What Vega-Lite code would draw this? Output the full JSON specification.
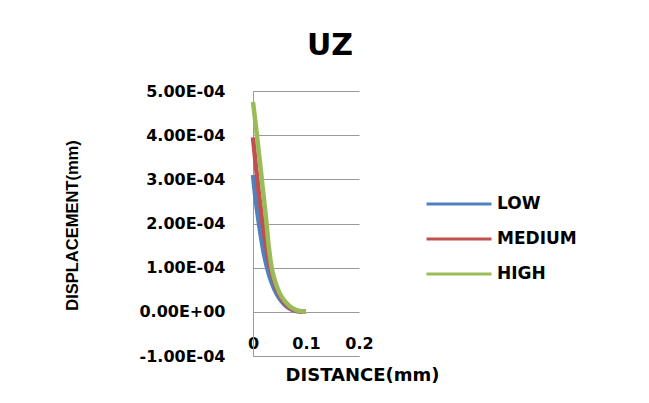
{
  "$schema": "https://vega.github.io/schema/vega-lite/v6.json",
  "width": 106,
  "height": 265,
  "autosize": "none",
  "padding": {"left": 253, "top": 91, "right": 290, "bottom": 47},
  "background": "white",
  "title": {"text": "UZ", "fontSize": 30, "font": "DejaVu Sans", "fontWeight": "bold", "anchor": "middle", "frame": "group", "dx": 24, "offset": 22, "color": "#000000"},
  "config": {
    "view": {"stroke": null},
    "font": "DejaVu Sans"
  },
  "data": {"values": [
    {"level": "LOW", "distance": 0, "uz": 0.00031},
    {"level": "LOW", "distance": 0.005, "uz": 0.000255},
    {"level": "LOW", "distance": 0.01, "uz": 0.00021},
    {"level": "LOW", "distance": 0.015, "uz": 0.00017},
    {"level": "LOW", "distance": 0.02, "uz": 0.000135},
    {"level": "LOW", "distance": 0.03, "uz": 0.000085},
    {"level": "LOW", "distance": 0.04, "uz": 0.000052},
    {"level": "LOW", "distance": 0.05, "uz": 0.00003},
    {"level": "LOW", "distance": 0.06, "uz": 0.000016},
    {"level": "LOW", "distance": 0.07, "uz": 0.000007},
    {"level": "LOW", "distance": 0.08, "uz": 0.0000025},
    {"level": "LOW", "distance": 0.09, "uz": 0.0000005},
    {"level": "LOW", "distance": 0.1, "uz": 0},
    {"level": "MEDIUM", "distance": 0, "uz": 0.000395},
    {"level": "MEDIUM", "distance": 0.005, "uz": 0.000335},
    {"level": "MEDIUM", "distance": 0.01, "uz": 0.00028},
    {"level": "MEDIUM", "distance": 0.015, "uz": 0.00023},
    {"level": "MEDIUM", "distance": 0.02, "uz": 0.000185},
    {"level": "MEDIUM", "distance": 0.03, "uz": 0.000115},
    {"level": "MEDIUM", "distance": 0.04, "uz": 0.000068},
    {"level": "MEDIUM", "distance": 0.05, "uz": 0.000038},
    {"level": "MEDIUM", "distance": 0.06, "uz": 0.00002},
    {"level": "MEDIUM", "distance": 0.07, "uz": 0.000009},
    {"level": "MEDIUM", "distance": 0.08, "uz": 0.0000035},
    {"level": "MEDIUM", "distance": 0.09, "uz": 0.0000008},
    {"level": "MEDIUM", "distance": 0.1, "uz": 0},
    {"level": "HIGH", "distance": 0, "uz": 0.000475},
    {"level": "HIGH", "distance": 0.005, "uz": 0.000425},
    {"level": "HIGH", "distance": 0.01, "uz": 0.000372},
    {"level": "HIGH", "distance": 0.015, "uz": 0.000318},
    {"level": "HIGH", "distance": 0.02, "uz": 0.000263},
    {"level": "HIGH", "distance": 0.025, "uz": 0.000207},
    {"level": "HIGH", "distance": 0.03, "uz": 0.000145},
    {"level": "HIGH", "distance": 0.035, "uz": 0.000102},
    {"level": "HIGH", "distance": 0.04, "uz": 0.000076},
    {"level": "HIGH", "distance": 0.05, "uz": 0.000043},
    {"level": "HIGH", "distance": 0.06, "uz": 0.000024},
    {"level": "HIGH", "distance": 0.07, "uz": 0.000012},
    {"level": "HIGH", "distance": 0.08, "uz": 0.000005},
    {"level": "HIGH", "distance": 0.09, "uz": 0.0000015},
    {"level": "HIGH", "distance": 0.1, "uz": 0}
  ]},
  "mark": {"type": "line", "strokeWidth": 4.5, "interpolate": "monotone"},
  "encoding": {
    "x": {
      "field": "distance", "type": "quantitative",
      "scale": {"domain": [0, 0.2], "nice": false},
      "axis": {
        "values": [0, 0.1, 0.2], "labelExpr": "datum.value == 0 ? '0' : format(datum.value, '.1f')",
        "grid": false, "ticks": false, "domain": true, "domainColor": "#9a9a9a", "domainWidth": 1,
        "labelFont": "DejaVu Sans", "labelFontWeight": "bold", "labelFontSize": 16, "labelColor": "#000000",
        "labelBaseline": "middle", "labelPadding": -13, "labelFlush": false,
        "title": "DISTANCE(mm)", "titleFont": "DejaVu Sans", "titleFontWeight": "bold", "titleFontSize": 18, "titleColor": "#000000",
        "titleX": 109, "titleY": 19, "titleAlign": "center", "titleBaseline": "middle"
      }
    },
    "y": {
      "field": "uz", "type": "quantitative",
      "scale": {"domain": [-0.0001, 0.0005], "nice": false, "zero": false},
      "axis": {
        "values": [-0.0001, 0, 0.0001, 0.0002, 0.0003, 0.0004, 0.0005],
        "labelExpr": "datum.value == 0 ? '0.00E+00' : (datum.value < 0 ? '-' : '') + format(abs(datum.value) * 10000, '.2f') + 'E-04'",
        "grid": true, "gridColor": "#9a9a9a", "gridWidth": 1,
        "ticks": false, "domain": true, "domainColor": "#9a9a9a", "domainWidth": 1,
        "labelFont": "DejaVu Sans", "labelFontWeight": "bold", "labelFontSize": 16, "labelColor": "#000000",
        "labelPadding": 28, "labelFlush": false,
        "title": "DISPLACEMENT(mm)", "titleFont": "Liberation Sans", "titleFontWeight": "bold", "titleFontSize": 16.5, "titleColor": "#000000",
        "titleX": -181, "titleY": 134, "titleAngle": 270, "titleAlign": "center", "titleBaseline": "middle"
      }
    },
    "color": {
      "field": "level", "type": "nominal",
      "scale": {"domain": ["LOW", "MEDIUM", "HIGH"], "range": ["#4F81BD", "#C0504D", "#9BBB59"]},
      "legend": {
        "title": null, "orient": "none", "legendX": 172, "legendY": 99,
        "symbolType": "M-1,0H4.2", "symbolSize": 625, "symbolStrokeWidth": 3,
        "labelFont": "DejaVu Sans", "labelFontWeight": "bold", "labelFontSize": 17, "labelColor": "#000000",
        "labelOffset": 44, "rowPadding": 13, "padding": 0
      }
    },
    "order": {"field": "level"}
  }
}
